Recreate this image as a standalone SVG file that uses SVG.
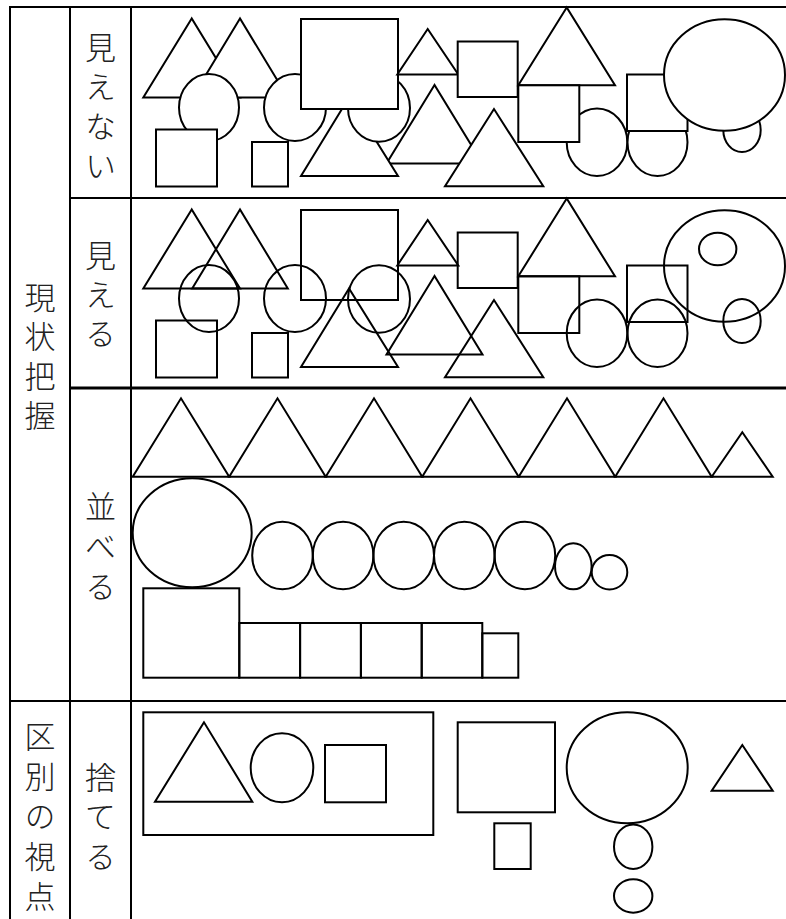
<svg xmlns="http://www.w3.org/2000/svg" width="786" height="919" viewBox="0 0 786 919">
<style>
.grid{stroke:#000;stroke-width:2;fill:none}
.s{stroke:#000;stroke-width:2;fill:none;stroke-linejoin:miter}
.f{stroke:#000;stroke-width:2;fill:#fff;stroke-linejoin:miter}
.t{font-family:"Noto Sans CJK JP","Noto Sans CJK SC",sans-serif;font-size:31px;font-weight:300;fill:#222;writing-mode:vertical-rl;text-orientation:mixed;dominant-baseline:central;letter-spacing:8.5px}
</style>
<rect width="786" height="919" fill="#fff"/>
<g id="grid">
<line class="grid" x1="9" y1="7" x2="786" y2="7"/>
<line class="grid" x1="10" y1="6" x2="10" y2="919"/>
<line class="grid" x1="70" y1="6" x2="70" y2="919"/>
<line class="grid" x1="131" y1="6" x2="131" y2="919"/>
<line class="grid" x1="70" y1="198" x2="786" y2="198"/>
<line class="grid" x1="70" y1="388" x2="786" y2="388" style="stroke-width:3"/>
<line class="grid" x1="10" y1="701" x2="786" y2="701"/>
</g>
<g id="labels">
<text id="l-genjo" class="t" x="40" y="281.5">現状把握</text>
<text id="l-kubetsu" class="t" x="40" y="720.5" style="letter-spacing:9px">区別の視点</text>
<text id="l-mienai" class="t" x="100.5" y="31.5">見えない</text>
<text id="l-mieru" class="t" x="100.5" y="239.5" style="letter-spacing:8px">見える</text>
<text id="l-naraberu" class="t" x="100.5" y="490.5" style="letter-spacing:9px">並べる</text>
<text id="l-suteru" class="t" x="100.5" y="761.5">捨てる</text>
</g>
<defs>
<polygon id="T1" points="191.7,209.5 143.3,288.5 240,288.5"/>
<polygon id="T2" points="240,209.5 192.2,288.5 287.8,288.5"/>
<ellipse id="C1" cx="209" cy="298.5" rx="30" ry="33.5"/>
<ellipse id="C2" cx="295" cy="298.5" rx="31" ry="33.5"/>
<rect id="S2" x="156" y="320.5" width="61" height="57"/>
<rect id="S3" x="252" y="333" width="36" height="44.5"/>
<polygon id="T4" points="434.5,276 386.5,354.5 482.5,354.5"/>
<polygon id="T3" points="349,288.5 301,367 398,367"/>
<ellipse id="C3" cx="379" cy="299" rx="31" ry="33.8"/>
<rect id="S1" x="301" y="210" width="97" height="90"/>
<polygon id="T5" points="427.7,220 397.3,265.5 458.3,265.5"/>
<rect id="S4" x="457.7" y="232.5" width="60" height="55.5"/>
<polygon id="T6" points="566.7,198.5 518.3,276.3 615,276.3"/>
<ellipse id="C4" cx="597" cy="333.3" rx="30.3" ry="33.7"/>
<rect id="S5" x="518.3" y="276.3" width="61" height="56.7"/>
<polygon id="T7" points="494,300 445,377.3 543.3,377.3"/>
<ellipse id="C5" cx="657.5" cy="333.3" rx="30" ry="33.7"/>
<rect id="S6" x="627" y="265.5" width="60.5" height="56.5"/>
<ellipse id="C7" cx="742" cy="321" rx="18.7" ry="22"/>
<ellipse id="C6" cx="724.5" cy="266" rx="60.5" ry="55.8"/>
<ellipse id="C8" cx="717.7" cy="249" rx="18.7" ry="16.3"/>
</defs>
<g id="row-mienai" class="f" transform="translate(0,-191)">
<use href="#T1"/><use href="#T2"/><use href="#C1"/><use href="#C2"/><use href="#S2"/><use href="#S3"/>
<use href="#T4"/><use href="#T3"/><use href="#C3"/><use href="#S1"/><use href="#T5"/><use href="#S4"/>
<use href="#T6"/><use href="#C4"/><use href="#S5"/><use href="#T7"/><use href="#C5"/><use href="#S6"/>
<use href="#C7"/><use href="#C6"/>
</g>
<g id="row-mieru" class="s">
<use href="#T1"/><use href="#T2"/><use href="#C1"/><use href="#C2"/><use href="#S2"/><use href="#S3"/>
<use href="#T4"/><use href="#T3"/><use href="#C3"/><use href="#S1"/><use href="#T5"/><use href="#S4"/>
<use href="#T6"/><use href="#C4"/><use href="#S5"/><use href="#T7"/><use href="#C5"/><use href="#S6"/>
<use href="#C7"/><use href="#C6"/><use href="#C8"/>
</g>
<g id="row-naraberu" class="s">
<polygon points="132.7,476.7 181,398.3 229.2,476.7"/>
<polygon points="229.2,476.7 277.5,398.3 325.7,476.7"/>
<polygon points="325.7,476.7 374,398.3 422.2,476.7"/>
<polygon points="422.2,476.7 470.5,398.3 518.7,476.7"/>
<polygon points="518.7,476.7 567,398.3 615.2,476.7"/>
<polygon points="615.2,476.7 663.5,398.3 711.7,476.7"/>
<polygon points="711.7,476.7 742.3,432.3 772.7,476.7"/>
<ellipse cx="192.2" cy="532.8" rx="59.5" ry="54.5"/>
<ellipse cx="282.5" cy="555.5" rx="30.3" ry="33.8"/>
<ellipse cx="343.1" cy="555.5" rx="30.3" ry="33.8"/>
<ellipse cx="403.7" cy="555.5" rx="30.3" ry="33.8"/>
<ellipse cx="464.3" cy="555.5" rx="30.3" ry="33.8"/>
<ellipse cx="524.9" cy="555.5" rx="30.3" ry="33.8"/>
<ellipse cx="573.3" cy="566.3" rx="18.3" ry="23"/>
<ellipse cx="609.5" cy="572.2" rx="17.8" ry="17.2"/>
<rect x="143.3" y="588.3" width="96" height="89.4"/>
<rect x="239.3" y="623" width="60.8" height="54.7"/>
<rect x="300.1" y="623" width="60.8" height="54.7"/>
<rect x="360.9" y="623" width="60.8" height="54.7"/>
<rect x="421.7" y="623" width="60.6" height="54.7"/>
<rect x="482.3" y="633.3" width="36" height="44.4"/>
</g>
<g id="row-suteru" class="s">
<rect x="143.3" y="712.3" width="290" height="122.7"/>
<polygon points="204,722.3 155,801.7 252.3,801.7"/>
<ellipse cx="282" cy="767.8" rx="31.3" ry="34.5"/>
<rect x="325" y="745" width="61" height="57.3"/>
<rect x="457.7" y="722.3" width="97.3" height="90"/>
<rect x="494.3" y="823.3" width="36.4" height="45.7"/>
<ellipse cx="627.2" cy="767.8" rx="60.5" ry="55.5"/>
<ellipse cx="633.2" cy="846.7" rx="19.2" ry="22.3"/>
<ellipse cx="633.2" cy="896" rx="19.2" ry="16.7"/>
<polygon points="742.3,745 711.7,790.7 772.7,790.7"/>
</g>
</svg>
